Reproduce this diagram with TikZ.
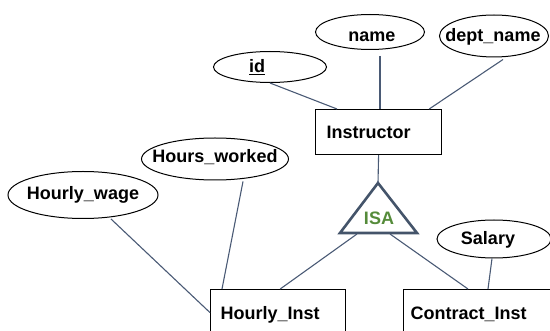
\documentclass[tikz,border=0pt]{standalone}
\usepackage{fontspec}
\setmainfont{Liberation Sans}
\usetikzlibrary{shapes.geometric}
\definecolor{conn}{HTML}{4A5A75}
\definecolor{tri}{HTML}{44546A}
\definecolor{isagreen}{HTML}{558B3A}
\begin{document}
\begin{tikzpicture}[x=1pt,y=-1pt,
  attr/.style={draw=black,line width=1pt,ellipse,inner sep=0pt},
  lbl/.style={font=\fontsize{18}{20}\selectfont\bfseries,inner sep=0pt},
  ent/.style={draw=black,line width=1.2pt,rectangle,align=left,font=\fontsize{18}{20}\selectfont\bfseries,inner ysep=0pt,anchor=north west},
  conn/.style={draw=conn,line width=1.1pt}]
\useasboundingbox (0,0) rectangle (550,331);
\begin{scope}
\clip (0,0) rectangle (550,331);
% attributes
\node[attr,minimum width=113pt,minimum height=31pt] (id) at (270,67) {};
\node[lbl] (idt) at (257,67) {\underline{id}};
\node[attr,minimum width=109pt,minimum height=35pt] (name) at (370,32) {};
\node[lbl] (namet) at (372,37) {name};
\node[attr,minimum width=109pt,minimum height=42pt] (dept) at (494,36) {};
\node[lbl] (deptt) at (493,37) {dept\_name};
\node[attr,minimum width=147pt,minimum height=42pt] (hw) at (215,159) {};
\node[lbl] (hwt) at (215,157) {Hours\_worked};
\node[attr,minimum width=150pt,minimum height=47pt] (hwg) at (83,195) {};
\node[lbl] (hwgt) at (83,195) {Hourly\_wage};
\node[attr,minimum width=114pt,minimum height=38pt] (sal) at (494,239) {};
\node[lbl] (salt) at (488,240) {Salary};
% entities
\node[ent,inner xsep=11pt,text width=104pt,minimum height=45pt] (ins) at (315,109) {Instructor};
\node[ent,inner xsep=10pt,text width=115pt,minimum height=50pt] (hi) at (210,289) {Hourly\_Inst};
\node[ent,inner xsep=7pt,text width=136pt,minimum height=50pt] (ci) at (403,289) {Contract\_Inst};
% ISA triangle
\coordinate (isaT) at (378,183);
\coordinate (isaL) at (340,233);
\coordinate (isaR) at (417,233);
\coordinate (isaBL) at (357,234);
\coordinate (isaBR) at (390,234);
\draw[draw=tri,line width=2.6pt,line join=miter] (isaT) -- (isaL) -- (isaR) -- cycle;
\node[lbl,text=isagreen] (isa) at (379,218) {ISA};
% connectors
\draw[conn] (id.south) -- ([xshift=22pt]ins.north west);
\draw[conn] ([xshift=10pt,yshift=-6pt]name.south) -- ([xshift=65pt]ins.north west);
\draw[conn] ([xshift=9pt,yshift=-2pt]dept.south) -- ([xshift=-13pt]ins.north east);
\draw[conn] (ins.south) -- (isaT);
\draw[conn] (isaBL) -- ([xshift=-66pt]hi.north east);
\draw[conn] (isaBR) -- ([xshift=65pt]ci.north west);
\draw[conn] ([xshift=-2pt]sal.south) -- ([xshift=85pt]ci.north west);
\draw[conn] ([xshift=28pt,yshift=-1pt]hw.south) -- ([xshift=12pt]hi.north west);
\draw[conn] ([xshift=28pt]hwg.south) -- ([yshift=2pt]hi.west);
\end{scope}
\end{tikzpicture}
\end{document}
